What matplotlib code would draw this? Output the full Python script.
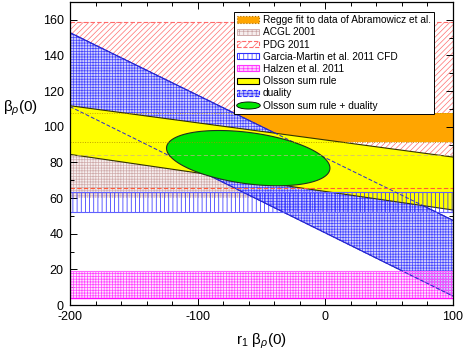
import numpy as np
import matplotlib
matplotlib.use('Agg')
import matplotlib.pyplot as plt
from matplotlib.patches import Patch
from matplotlib.lines import Line2D
from matplotlib.path import Path
from matplotlib.ticker import MultipleLocator

plt.rcParams['font.family'] = ['Liberation Sans', 'DejaVu Sans']
plt.rcParams['mathtext.fontset'] = 'custom'
plt.rcParams['mathtext.rm'] = 'Liberation Sans'
plt.rcParams['mathtext.it'] = 'Liberation Sans:italic'
plt.rcParams['hatch.linewidth'] = 0.5
plt.rcParams['axes.unicode_minus'] = False

# x range of the constraints (r1 * beta_rho(0))
x_ends = np.array([-200.0, 100.0])

# horizontal bands: [lower, upper] in beta_rho(0)
regge = [91.7, 108.0]
acgl = [60.0, 84.0]
pdg = [65.5, 158.5]
garcia = [52.3, 63.6]
halzen = [4.1, 18.8]

# slanted bands: values at x = -200 and x = 100
duality_up = np.array([152.8, 47.5])
duality_lo = np.array([111.3, 5.0])
olsson_up = np.array([111.8, 83.0])
olsson_lo = np.array([84.5, 53.3])

# combined ellipse: centre, half extents, correlation
ell_center = (-60.4, 82.4)
ell_half = (64.0, 15.5)
ell_corr = -0.36

fig = plt.figure(figsize=(4.63, 3.56), dpi=100)
ax = fig.add_axes([70/463, 51/356, 383/463, 303/356])

# PDG red hatch
ax.fill_between(x_ends, pdg[0], pdg[1], facecolor='white', edgecolor='#ff7070',
                hatch='//////', linewidth=0, zorder=1)
ax.plot(x_ends, [pdg[1]]*2, color='#ff6a6a', lw=0.8, ls=(0, (4, 2)), zorder=1.1)

# ACGL rosy dots
ax.fill_between(x_ends, acgl[0], acgl[1], facecolor='#f6eeee', edgecolor='#d0acac',
                hatch='++++++', linewidth=0, zorder=1.2)

# Regge orange
ax.fill_between(x_ends, regge[0], regge[1], facecolor='#ffa500', edgecolor='none',
                linewidth=0, zorder=1.3)

# duality blue hatch
ax.fill_between(x_ends, duality_lo, duality_up, facecolor='#cfcffc', edgecolor='#4646ff',
                hatch='++++++', linewidth=0, zorder=2)
ax.plot(x_ends, duality_up, color='#1a1acc', lw=0.8, zorder=2.1)
ax.plot(x_ends, duality_lo, color='#1a1acc', lw=0.8, zorder=2.1)

# Olsson yellow
ax.fill_between(x_ends, olsson_lo, olsson_up, facecolor='#ffff00', edgecolor='none',
                linewidth=0, zorder=3)
ax.plot(x_ends, olsson_up, color='#333300', lw=0.8, zorder=3.1)
ax.plot(x_ends, olsson_lo, color='#333300', lw=0.8, zorder=3.1)

# Garcia-Martin blue vertical lines
ax.fill_between(x_ends, garcia[0], garcia[1], facecolor='none', edgecolor='#2020ff',
                hatch='||||', linewidth=0, zorder=3.5)
ax.plot(x_ends, [garcia[0]]*2, color='#6060ff', lw=0.8, zorder=3.6)
ax.plot(x_ends, [garcia[1]]*2, color='#6060ff', lw=0.8, zorder=3.6)

# Halzen magenta
ax.fill_between(x_ends, halzen[0], halzen[1], facecolor=(1, 0.7, 1, 0.35), edgecolor='#ff44ff',
                hatch='++++++', linewidth=0, zorder=3.5)
ax.plot(x_ends, [halzen[0]]*2, color='#ff00ff', lw=1.0, zorder=3.6)
ax.plot(x_ends, [halzen[1]]*2, color='#ff66ff', lw=0.8, zorder=3.6)

# dashed duality edges visible through yellow
ax.plot(x_ends, duality_up, color='#2a2ad0', lw=0.7, ls=(0, (4, 2)), zorder=4)
ax.plot(x_ends, duality_lo, color='#2a2ad0', lw=0.7, ls=(0, (4, 2)), zorder=4)

# ellipse
t = np.linspace(0, 2*np.pi, 200)
ex = ell_center[0] + ell_half[0]*np.cos(t)
ey = ell_center[1] + ell_half[1]*(ell_corr*np.cos(t) + np.sqrt(1 - ell_corr**2)*np.sin(t))
ax.fill(ex, ey, facecolor='#00e600', edgecolor='#203020', lw=0.8, zorder=5)

# boundary lines drawn over everything
ax.plot(x_ends, [pdg[0]]*2, color='#ff5a3a', lw=0.8, ls=(0, (4, 2)), zorder=6)
ax.plot(x_ends, [acgl[1]]*2, color='#c8b08c', lw=0.6, ls=(0, (5, 3)), alpha=0.8, zorder=6)
ax.plot(x_ends, [regge[0]]*2, color='#b08a00', lw=0.7, ls=(0, (1, 1.5)), alpha=0.8, zorder=6)
ax.plot(x_ends, [regge[1]]*2, color='#c09a00', lw=0.7, ls=(0, (1, 1.5)), alpha=0.8, zorder=6)

ax.set_xlim(-200, 100)
ax.set_ylim(0, 170)
ax.set_xticks([-200, -100, 0, 100])
ax.xaxis.set_minor_locator(MultipleLocator(20))
ax.yaxis.set_major_locator(MultipleLocator(20))
ax.yaxis.set_minor_locator(MultipleLocator(10))
ax.tick_params(which='both', direction='in', top=True, right=True, width=0.7, labelsize=9)
ax.tick_params(which='major', length=5)
ax.tick_params(which='minor', length=3)
ax.tick_params(axis='x', pad=4.5)
ax.tick_params(axis='y', pad=4.5)
for s in ax.spines.values():
    s.set_linewidth(0.9)
    s.set_zorder(10)

ax.set_xlabel(r'r$_1$ β$_\rho$(0)', fontsize=11, labelpad=6)
ax.set_ylabel(r'β$_\rho$(0)', fontsize=11, rotation=0, va='center')
ax.yaxis.set_label_coords(-0.13, 0.65)

# legend
ell_t = np.linspace(0, 2*np.pi, 60)
ell_marker = Path(np.column_stack([np.cos(ell_t), 0.3*np.sin(ell_t)]))
handles = [
    Patch(facecolor='#ffa500', edgecolor='#b07000', linestyle=':', linewidth=0.8),
    Patch(facecolor='#f6eeee', edgecolor='#c9a4a4', hatch='++++', linewidth=0.6),
    Patch(facecolor='white', edgecolor='#ff6a6a', hatch='////', linestyle='--', linewidth=0.8),
    Patch(facecolor='white', edgecolor='#3030ff', hatch='||||', linewidth=0.8),
    Patch(facecolor='#ffd0ff', edgecolor='#ff33ff', hatch='++++', linewidth=0.8),
    Patch(facecolor='#ffff00', edgecolor='black', linewidth=0.8),
    Patch(facecolor='#c4c4fa', edgecolor='#2b2bff', hatch='++++', linestyle='--', linewidth=0.8),
    Line2D([], [], linestyle='none', marker=ell_marker, markersize=17,
           markerfacecolor='#00e600', markeredgecolor='black', markeredgewidth=0.6),
]
labels = ['Regge fit to data of Abramowicz et al.', 'ACGL 2001', 'PDG 2011',
          'Garcia-Martin et al. 2011 CFD', 'Halzen et al. 2011', 'Olsson sum rule',
          'duality', 'Olsson sum rule + duality']
leg = ax.legend(handles, labels, loc='upper right', bbox_to_anchor=(0.950, 0.967),
                fontsize=7.3, handlelength=2.2, handleheight=0.55, handletextpad=0.35,
                labelspacing=0.22, borderpad=0.3, borderaxespad=0, fancybox=False,
                framealpha=1, edgecolor='black')
leg.get_frame().set_linewidth(0.7)
leg.set_zorder(20)

fig.savefig('out.png', dpi=100)
